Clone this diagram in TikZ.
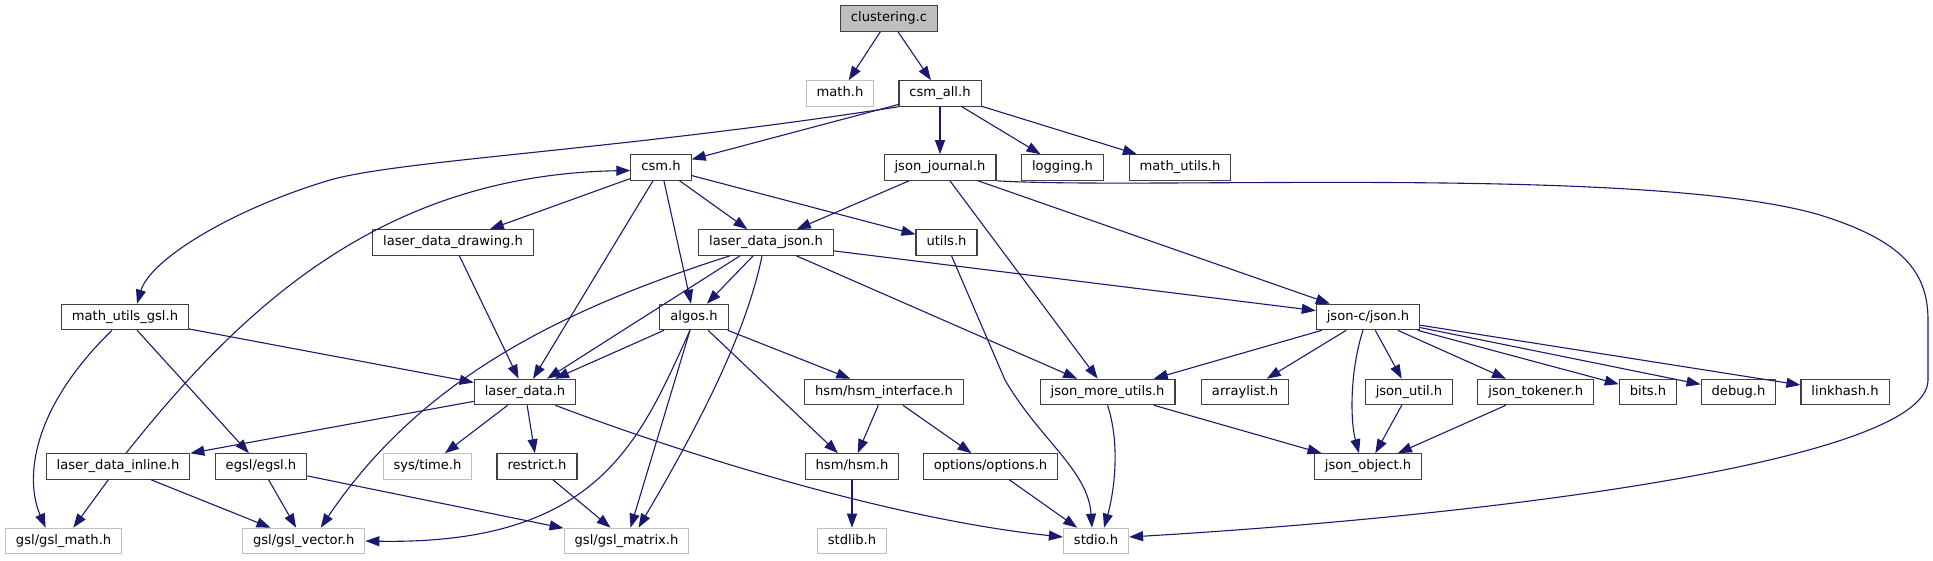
\documentclass[tikz,border=0pt]{standalone}
\usepackage{fontspec}
\setmainfont{DejaVu Sans}
\usepackage{tikz}
\usetikzlibrary{calc,arrows.meta}
\definecolor{edgeblue}{HTML}{191970}
\definecolor{boxgray}{HTML}{404040}
\definecolor{sysgray}{HTML}{BFBFBF}

\begin{document}
\begin{tikzpicture}[x=1pt, y=-1pt,
		hfile/.style={draw=boxgray, line width=1.1pt, fill=white, inner xsep=10.5pt, inner ysep=0pt, minimum height=25.5pt, text height=9.8pt, text depth=2.9pt, font=\fontsize{13.1}{15}\selectfont},
		sysfile/.style={hfile, draw=sysgray},
		rootfile/.style={hfile, fill=sysgray},
		inc/.style={draw=edgeblue, line width=1.1pt, -{Triangle[length=14pt,width=10pt]}}]
			%%%%% START %%%%%
			\useasboundingbox (0, 0) rectangle (1933, 560);
			
			\node[rootfile] (root) at (889, 18.5) {clustering.c};
			
			\node[sysfile] (mathh) at (840, 93.5) {math.h};
			\node[hfile] (csmall) at (940, 93.5) {csm\_all.h};
			
			\node[hfile] (csm) at (661, 167.5) {csm.h};
			\node[hfile] (jjournal) at (940, 167.5) {json\_journal.h};
			\node[hfile] (logging) at (1062.5, 167.5) {logging.h};
			\node[hfile] (mutils) at (1180, 167.5) {math\_utils.h};
			
			\node[hfile] (ldraw) at (453, 242.5) {laser\_data\_drawing.h};
			\node[hfile] (ldjson) at (766, 242.5) {laser\_data\_json.h};
			\node[hfile] (utils) at (946.5, 242.5) {utils.h};
			
			\node[hfile] (mugsl) at (125, 317) {math\_utils\_gsl.h};
			\node[hfile] (algos) at (694, 317) {algos.h};
			\node[hfile] (jsonc) at (1368, 317) {json-c/json.h};
			
			\node[hfile] (ldata) at (525, 392) {laser\_data.h};
			\node[hfile] (hsmif) at (884, 392) {hsm/hsm\_interface.h};
			\node[hfile] (jmore) at (1107.6, 392) {json\_more\_utils.h};
			\node[hfile] (alist) at (1245, 392) {arraylist.h};
			\node[hfile] (jutil) at (1409, 392) {json\_util.h};
			\node[hfile] (jtok) at (1535.7, 392) {json\_tokener.h};
			\node[hfile] (bits) at (1648, 392) {bits.h};
			\node[hfile] (debug) at (1738.5, 392) {debug.h};
			\node[hfile] (lhash) at (1845, 392) {linkhash.h};
			
			\node[hfile] (ldinline) at (118, 466.5) {laser\_data\_inline.h};
			\node[hfile] (egsl) at (261, 466.5) {egsl/egsl.h};
			\node[sysfile] (systime) at (427.5, 466.5) {sys/time.h};
			\node[hfile] (restrict) at (537, 466.5) {restrict.h};
			\node[hfile] (hsm) at (852, 466.5) {hsm/hsm.h};
			\node[hfile] (options) at (990.5, 466.5) {options/options.h};
			\node[hfile] (jobject) at (1368, 466.5) {json\_object.h};
			
			\node[sysfile] (gslmath) at (63.6, 541) {gsl/gsl\_math.h};
			\node[sysfile] (gslvector) at (303.7, 541) {gsl/gsl\_vector.h};
			\node[sysfile] (gslmatrix) at (626.5, 541) {gsl/gsl\_matrix.h};
			\node[sysfile] (stdlib) at (852, 541) {stdlib.h};
			\node[sysfile] (stdio) at (1096, 541) {stdio.h};
			
			% clustering.c and csm_all.h
			\draw[inc] (root) -- (mathh);
			\draw[inc] (root) -- (csmall);
			\draw[inc] (csmall) -- (csm);
			\draw[inc] (csmall.south west) .. controls (620, 150) and (400, 160) .. (330, 180) .. controls (230, 210) and (150, 260) .. ($(mugsl.north)+(12, 0)$);
			\draw[inc] (csmall) -- (jjournal);
			\draw[inc] (csmall) -- (logging);
			\draw[inc] (csmall) -- (mutils);
			
			% csm.h
			\draw[inc] (csm) -- (ldraw);
			\draw[inc] (csm) -- (ldjson);
			\draw[inc] (csm) -- (utils);
			\draw[inc] (csm) -- (algos);
			\draw[inc] (csm) -- (ldata);
			\draw[inc] ($(ldinline.north)+(8, 0)$) .. controls (240, 310) and (380, 175) .. ($(csm.west)+(0, 3)$);
			
			% json_journal.h
			\draw[inc] (jjournal) -- (ldjson);
			\draw[inc] (jjournal) -- (jmore);
			\draw[inc] (jjournal) -- (jsonc);
			\draw[inc] (jjournal.south east) .. controls (1150, 190) and (1650, 165) .. (1820, 215) .. controls (1900, 240) and (1928, 270) .. (1928, 320) -- (1928, 380) .. controls (1928, 460) and (1500, 515) .. ($(stdio.east)+(0, -4)$);
			
			% laser_data_json.h
			\draw[inc] ($(ldjson.south)+(-26, 0)$) -- ($(ldata.north)+(22, 0)$);
			\draw[inc] (ldjson) -- (algos);
			\draw[inc] ($(ldjson.south)+(-36, 0)$) .. controls (560, 310) and (420, 380) .. ($(gslvector.north)+(17, 0)$);
			\draw[inc] ($(ldjson.south)+(-4, 0)$) .. controls (745, 340) and (690, 440) .. ($(gslmatrix.north)+(12, 0)$);
			\draw[inc] (ldjson) -- (jmore);
			\draw[inc] (ldjson) -- (jsonc);
			
			\draw[inc] (ldraw) -- (ldata);
			\draw[inc] ($(utils.south)+(5, 0)$) -- (1005, 380) .. controls (1040, 440) and (1088, 470) .. ($(stdio.north)+(-4, 0)$);
			
			% math_utils_gsl.h
			\draw[inc] ($(mugsl.south)+(-13, 0)$) .. controls (30, 410) and (25, 480) .. ($(gslmath.north)+(-18, 0)$);
			\draw[inc] (mugsl) -- (egsl);
			\draw[inc] (mugsl) -- (ldata);
			
			% algos.h
			\draw[inc] (algos) -- (ldata);
			\draw[inc] (algos) -- (hsmif);
			\draw[inc] (algos) -- (hsm);
			\draw[inc] ($(algos.south)+(-4, 0)$) .. controls (640, 440) and (600, 545) .. (gslvector.east);
			\draw[inc] (algos) -- (gslmatrix);
			
			% laser_data.h
			\draw[inc] (ldata) -- (ldinline);
			\draw[inc] (ldata) -- (systime);
			\draw[inc] (ldata) -- (restrict);
			\draw[inc] ($(ldata.south east)+(-21, 0)$) .. controls (700, 460) and (900, 520) .. ($(stdio.west)+(0, -4)$);
			
			\draw[inc] (ldinline) -- (gslmath);
			\draw[inc] (ldinline) -- (gslvector);
			\draw[inc] (egsl) -- (gslvector);
			\draw[inc] (egsl) -- (gslmatrix);
			\draw[inc] (restrict) -- (gslmatrix);
			
			% hsm
			\draw[inc] (hsmif) -- (hsm);
			\draw[inc] (hsmif) -- (options);
			\draw[inc] (hsm) -- (stdlib);
			\draw[inc] (options) -- (stdio);
			
			% json
			\draw[inc] (jmore.south) .. controls (1122, 450) and (1112, 500) .. ($(stdio.north)+(8, 0)$);
			\draw[inc] (jmore) -- (jobject);
			\draw[inc] (jsonc) -- (jmore);
			\draw[inc] (jsonc) -- (alist);
			\draw[inc] ($(jsonc.south)+(-5, 0)$) .. controls (1350, 370) and (1350, 420) .. ($(jobject.north)+(-9, 0)$);
			\draw[inc] (jsonc) -- (jutil);
			\draw[inc] (jsonc) -- (jtok);
			\draw[inc] (jsonc) -- (bits);
			\draw[inc] (jsonc) -- (debug);
			\draw[inc] (jsonc) -- (lhash);
			\draw[inc] (jutil) -- (jobject);
			\draw[inc] (jtok) -- (jobject);
			%%%%% END %%%%%
		\end{tikzpicture}
\end{document}
